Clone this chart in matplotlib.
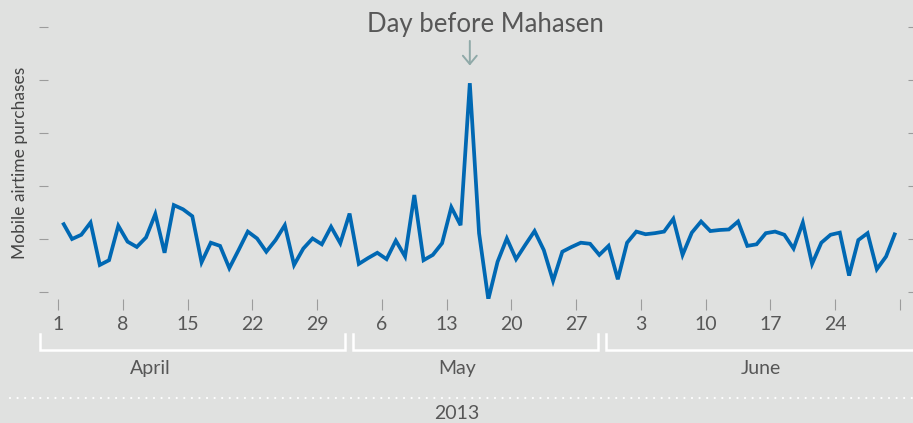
import matplotlib
matplotlib.use("Agg")
import matplotlib.pyplot as plt
from matplotlib.transforms import blended_transform_factory

plt.rcParams['font.family'] = ['Lato', 'DejaVu Sans']

# daily mobile airtime purchases, 1 April - 30 June 2013 (index units)
purchases = [
    1.31, 1.00, 1.08, 1.31, 0.51, 0.60, 1.25, 0.95, 0.85, 1.03,
    1.47, 0.74, 1.64, 1.56, 1.43, 0.56, 0.93, 0.87, 0.45, 0.79,
    1.14, 1.01, 0.76, 0.98, 1.26, 0.51, 0.82, 1.01, 0.90, 1.23,
    0.92, 1.48, 0.53, 0.64, 0.74, 0.62, 0.97, 0.67, 1.83, 0.60,
    0.70, 0.92, 1.60, 1.26, 3.94, 1.11, -0.14, 0.57, 1.01, 0.62,
    0.89, 1.15, 0.79, 0.21, 0.76, 0.85, 0.93, 0.91, 0.70, 0.87,
    0.24, 0.93, 1.14, 1.09, 1.11, 1.14, 1.38, 0.70, 1.12, 1.33,
    1.15, 1.17, 1.18, 1.33, 0.87, 0.90, 1.11, 1.14, 1.08, 0.82,
    1.31, 0.53, 0.93, 1.08, 1.12, 0.31, 0.98, 1.11, 0.43, 0.67,
    1.12,
]
days = [i + 0.5 for i in range(len(purchases))]

tick_days = list(range(0, 92, 7))
tick_labels = ['1', '8', '15', '22', '29', '6', '13', '20', '27',
               '3', '10', '17', '24', '']

months = ['April', 'May', 'June']
month_label_day = [10.0, 43.1, 76.0]
month_spans = [(-1.97, 30.98), (31.9, 58.36), (59.2, 96.0)]

bg = '#e0e1e0'
blue = '#0068b3'
grey_text = '#575757'
tick_grey = '#9c9c9c'

W, H = 913, 423
fig = plt.figure(figsize=(W / 100, H / 100), dpi=100, facecolor=bg)
ax = fig.add_axes([48 / W, (H - 299) / H, 860 / W, 294 / H])
ax.set_facecolor(bg)

ax.plot(days, purchases, color=blue, lw=2.7, solid_joinstyle='miter',
        solid_capstyle='butt')

ax.set_xlim(-1.10, 91.87)
ax.set_ylim(-0.132, 5.415)

for s in ax.spines.values():
    s.set_visible(False)

ax.set_yticks(range(6))
ax.set_yticklabels([])
ax.tick_params(axis='y', left=True, right=True, direction='out',
               length=6.5, width=0.8, color=tick_grey)
ax.set_xticks(tick_days)
ax.set_xticklabels(tick_labels)
ax.tick_params(axis='x', direction='out', length=8, width=0.8,
               color=tick_grey, pad=4, labelsize=14, labelcolor=grey_text)

# peak annotation
peak = purchases.index(max(purchases))
px, pv = days[peak], purchases[peak]
ax.annotate('', xy=(px, pv + 0.28), xytext=(px, pv + 0.85),
            arrowprops=dict(arrowstyle='->, head_length=0.6, head_width=0.5',
                            color='#8fa9a8', lw=1.4, mutation_scale=10),
            annotation_clip=False)
ax.text(px + 1.7, pv + 0.97, 'Day before Mahasen', ha='center',
        va='baseline', fontsize=18.5, color=grey_text, clip_on=False)

# month brackets under the day ticks
tr = blended_transform_factory(ax.transData, fig.transFigure)
y_top, y_bot = 1 - 334 / H, 1 - 350 / H
for (x0, x1), name, lx in zip(month_spans, months, month_label_day):
    ax.plot([x0, x0, x1, x1], [y_top, y_bot, y_bot, y_top], color='white',
            lw=1.8, transform=tr, clip_on=False, solid_joinstyle='miter')
    ax.text(lx, 1 - 368 / H, name, transform=tr, ha='center', va='center',
            fontsize=14, color=grey_text)

# dotted separator and year
fig.add_artist(plt.Line2D([10 / W, 1], [1 - 398 / H] * 2, color='white',
                          lw=1.6, linestyle=(0, (0.01, 3.4)),
                          dash_capstyle='round'))
fig.text(0.5, 1 - 413 / H, '2013', ha='center', va='center', fontsize=14,
         color=grey_text)

fig.text(20 / W, 1 - 163 / H, 'Mobile airtime purchases', rotation=90,
         ha='center', va='center', fontsize=12.5, color='#444444')

fig.savefig('out.png', dpi=100, facecolor=bg)
